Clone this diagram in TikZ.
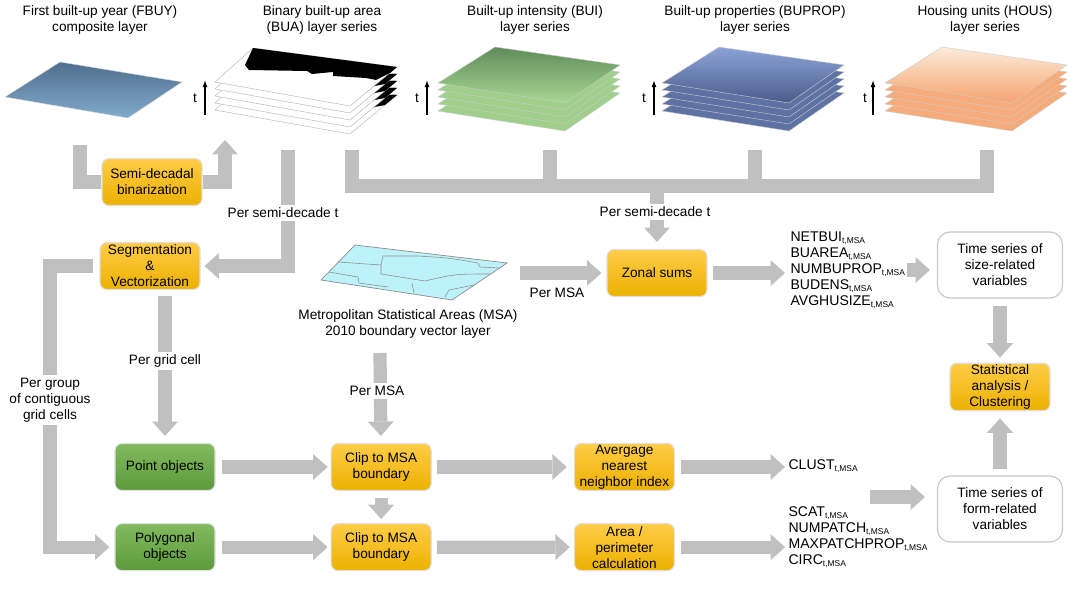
\documentclass[tikz,border=0pt]{standalone}
\usepackage{fontspec}
\setmainfont{Liberation Sans}
\usetikzlibrary{arrows.meta, positioning}
\definecolor{barGray}{HTML}{C0C0C0}
\definecolor{oTop}{HTML}{FFCC48}
\definecolor{oBot}{HTML}{ECB100}
\definecolor{gTop}{HTML}{82BA5E}
\definecolor{gBot}{HTML}{5C9A3A}
\definecolor{fbuyTop}{HTML}{4F6F8E}
\definecolor{fbuyBot}{HTML}{82AACB}
\definecolor{buiTop}{HTML}{5F8C5A}
\definecolor{buiBot}{HTML}{A8D894}
\definecolor{buiLow}{HTML}{9FCF8B}
\definecolor{bupTop}{HTML}{8CA3D8}
\definecolor{bupBot}{HTML}{4B5C8A}
\definecolor{bupLow}{HTML}{5E72A3}
\definecolor{housTop}{HTML}{FDEBDA}
\definecolor{housBot}{HTML}{F4A36E}
\definecolor{housLow}{HTML}{F6AC7A}
\definecolor{msaFill}{HTML}{BDF2FA}
\newcommand{\Layer}[3]{\shade[top color=#2, bottom color=#3, draw=black!20, line width=0.3pt] (#1) -- ++(127,20) -- ++(55,-38) -- ++(-125,-18) -- cycle;}
\newcommand{\BinLayer}[1]{\filldraw[fill=white, draw=black!30, line width=0.3pt] (#1) -- ++(135,24) -- ++(47,-39) -- ++(-144,-19) -- cycle;}
\newcommand{\BinSpot}[1]{\fill[black] (#1) -- ++(-12,10) -- ++(-15,3) -- ++(-5,-13) -- cycle;}
\newcommand{\tMSA}{\textsubscript{\fontsize{6}{6}\selectfont t,MSA}}
\tikzset{
  every picture/.style={line width=0.8pt},
  every node/.style={font=\fontsize{9.7}{11.4}\selectfont},
  procbox/.style={draw=black!12, rounded corners=5pt, top color=oTop, bottom color=oBot, minimum width=2.5cm, minimum height=1.175cm, align=center, inner sep=1pt},
  objbox/.style={procbox, top color=gTop, bottom color=gBot},
  outbox/.style={draw=black!22, rounded corners=9pt, fill=white, minimum width=3.125cm, minimum height=1.65cm, align=center},
  bar/.style={draw=barGray, line width=0.33cm},
  fat/.style={bar, -{Triangle[width=0.65cm, length=0.36cm, line width=0pt]}},
  lbl/.style={fill=white, inner sep=2pt, align=center},
  varlist/.style={align=left, font=\fontsize{10}{11.4}\selectfont, inner sep=0pt, anchor=west},
  tarrow/.style={-{Latex[length=5pt, width=3.5pt]}, line width=0.9pt},
  layertitle/.style={align=center},
  msaline/.style={draw=black!45, line width=0.4pt}
}

\begin{document}
\begin{tikzpicture}[x=0.025cm, y=-0.025cm]
  \useasboundingbox (0,0) rectangle (1080,597);

  % input layers
  \shade[top color=fbuyTop, bottom color=fbuyBot, draw=black!15, line width=0.3pt] (5,97) -- ++(123,21) -- ++(54,-36) -- ++(-122,-20) -- cycle;

  \BinLayer{215,110}
  \BinSpot{397,95}
  \BinLayer{215,103}
  \BinSpot{397,88}
  \BinLayer{215,96}
  \BinSpot{397,81}
  \BinLayer{215,89}
  \BinSpot{397,74}
  \BinLayer{215,82}
  \fill[black] (253,48) -- (397,67) -- (390,73) -- (376,80) -- (366,78) -- (333,76) -- (333,72) -- (312,74) -- (307,71) -- (249,70) -- (245,65) -- cycle;

  \Layer{438,111}{buiLow}{buiLow}
  \Layer{438,104}{buiLow}{buiLow}
  \Layer{438,97}{buiLow}{buiLow}
  \Layer{438,90}{buiLow}{buiLow}
  \Layer{438,83}{buiTop}{buiBot}

  \Layer{662,111}{bupLow}{bupLow}
  \Layer{662,104}{bupLow}{bupLow}
  \Layer{662,97}{bupLow}{bupLow}
  \Layer{662,90}{bupLow}{bupLow}
  \Layer{662,83}{bupTop}{bupBot}

  \Layer{885,111}{housLow}{housLow}
  \Layer{885,104}{housLow}{housLow}
  \Layer{885,97}{housLow}{housLow}
  \Layer{885,90}{housLow}{housLow}
  \Layer{885,83}{housTop}{housBot}

  \node[layertitle] (tifbuy) at (100,20) {First built-up year (FBUY)\\composite layer};
  \node[layertitle] (tibua) at (322,20) {Binary built-up area\\(BUA) layer series};
  \node[layertitle] (tibui) at (535,20) {Built-up intensity (BUI)\\layer series};
  \node[layertitle] (tibup) at (755,20) {Built-up properties (BUPROP)\\layer series};
  \node[layertitle] (tihous) at (985,20) {Housing units (HOUS)\\layer series};

  % time arrows
  \coordinate (buaT0) at (205,115);
  \coordinate (buaT1) at (205,80);
  \coordinate (buiT0) at (427,115);
  \coordinate (buiT1) at (427,80);
  \coordinate (bupT0) at (654,115);
  \coordinate (bupT1) at (654,80);
  \coordinate (housT0) at (873,115);
  \coordinate (housT1) at (873,80);
  \draw[tarrow] (buaT0) -- (buaT1);
  \draw[tarrow] (buiT0) -- (buiT1);
  \draw[tarrow] (bupT0) -- (bupT1);
  \draw[tarrow] (housT0) -- (housT1);
  \node (tbua) at (195,98) {t};
  \node (tbui) at (417,98) {t};
  \node (tbup) at (644,98) {t};
  \node (thous) at (865,98) {t};

  % MSA boundary layer
  \filldraw[fill=msaFill, draw=black!45, line width=0.5pt] (321,280) -- (355,245) -- (507,263) -- (452,300) -- cycle;
  \draw[msaline] (338,262) -- (381,265) -- (383,256) -- (418,256) .. controls (450,258) .. (478,263) -- (480,267) -- (499,268);
  \draw[msaline] (381,265) -- (381,274) -- (425,281) .. controls (455,274) .. (490,274);
  \draw[msaline] (329,272) -- (358,277) -- (359,283) -- (388,287);
  \draw[msaline] (412,283) -- (414,293);
  \draw[msaline] (445,297) -- (449,290) -- (474,285);
  \node[layertitle] (msalbl) at (408,324) {Metropolitan Statistical Areas (MSA)\\2010 boundary vector layer};

  % processing boxes
  \node[procbox] (binar) at (152,182) {Semi-decadal\\binarization};
  \node[procbox] (seg) at (150,266) {Segmentation\\\&\\Vectorization};
  \node[procbox] (zonal) at (657,273) {Zonal sums};
  \node[outbox] (tssize) at (1000,265) {Time series of\\size-related\\variables};
  \node[procbox] (stat) at (1000,387) {Statistical\\analysis /\\Clustering};
  \node[objbox] (point) at (165,467) {Point objects};
  \node[objbox, below=0.8cm of point] (poly) {Polygonal\\objects};
  \node[procbox, right=2.875cm of point] (clip1) {Clip to MSA\\boundary};
  \node[procbox, below=0.8cm of clip1] (clip2) {Clip to MSA\\boundary};
  \node[procbox, right=3.55cm of clip1] (ann) {Avergage\\nearest\\neighbor index};
  \node[procbox, below=0.8cm of ann] (area) {Area /\\perimeter\\calculation};
  \node[outbox] (tsform) at (1000,509) {Time series of\\form-related\\variables};

  % variables
  \node[varlist] (sizevars) at (790,270) {NETBUI\tMSA\\BUAREA\tMSA\\NUMBUPROP\tMSA\\BUDENS\tMSA\\AVGHUSIZE\tMSA};
  \node[varlist] (clust) at (788,466) {CLUST\tMSA};
  \node[varlist] (formvars) at (788,537) {SCAT\tMSA\\NUMPATCH\tMSA\\MAXPATCHPROP\tMSA\\CIRC\tMSA};

  % connector ends
  \coordinate (fbuyfoot) at (80,145);
  \coordinate (binup) at (225,140);
  \coordinate (buafoot) at (288,150);
  \coordinate (buabus) at (352,150);
  \coordinate (buifoot) at (550,150);
  \coordinate (bupfoot) at (755,150);
  \coordinate (housfoot) at (987,150);
  \coordinate (bus) at (657,186);
  \coordinate (msaout) at (520,273);
  \coordinate (msadown) at (380,353);
  \coordinate (grp) at (50,400);
  \coordinate (sizeout) at (907,270);
  \coordinate (formout) at (870,497);

  \draw[bar] (fbuyfoot) |- (binar.west);
  \draw[fat] (binar.east) -| (binup);
  \draw[fat, shorten >=0.1cm] (buafoot) |- (seg.east);
  \draw[bar] (buabus) |- (bus) -| (housfoot);
  \draw[bar] (buifoot) -- (buifoot |- bus);
  \draw[bar] (bupfoot) -- (bupfoot |- bus);
  \draw[fat, shorten >=0.175cm] (bus) -- (zonal);
  \draw[fat, shorten >=0.125cm] (msaout) -- (zonal);
  \draw[fat, shorten <=0.125cm, shorten >=0.125cm] (zonal) -- (zonal -| sizevars.west);
  \draw[fat, shorten >=0.175cm] (sizeout) -- (sizeout -| tssize.west);
  \draw[fat, shorten <=0.175cm, shorten >=0.125cm] (tssize) -- (stat);
  \draw[fat, shorten <=0.15cm, shorten >=0.175cm] (tsform) -- (stat);
  \draw[fat, shorten <=0.15cm, shorten >=0.175cm] (seg.south -| point) -- (point);
  \draw[fat, shorten <=0.15cm, shorten >=0.125cm] (seg.west) -| (grp) |- (poly.west);
  \draw[fat, shorten <=0.15cm, shorten >=0.075cm] (point) -- (clip1);
  \draw[fat, shorten <=0.15cm, shorten >=0.075cm] (poly) -- (clip2);
  \draw[fat, shorten <=0.175cm, shorten >=0.1cm] (clip1) -- (clip2);
  \draw[fat, shorten >=0.175cm] (msadown) -- (clip1);
  \draw[fat, shorten <=0.125cm, shorten >=0.175cm] (clip1) -- (ann);
  \draw[fat, shorten <=0.125cm, shorten >=0.1cm] (clip2) -- (area);
  \draw[fat, shorten <=0.15cm, shorten >=0.075cm] (ann) -- (ann -| clust.west);
  \draw[fat, shorten <=0.15cm, shorten >=0.075cm] (area) -- (area -| formvars.west);
  \draw[fat, shorten >=0.3cm] (formout) -- (formout -| tsform.west);

  % connector labels
  \node[lbl] (semiL) at (283,213) {Per semi-decade t};
  \node[lbl] (semiR) at (655,212) {Per semi-decade t};
  \node (msaR) at (557,293) {Per MSA};
  \node[lbl] (gridcell) at (165,361) {Per grid cell};
  \node[lbl] (msaD) at (377,391) {Per MSA};
  \node[lbl] (group) at (grp) {Per group\\of contiguous\\grid cells};
\end{tikzpicture}
\end{document}
